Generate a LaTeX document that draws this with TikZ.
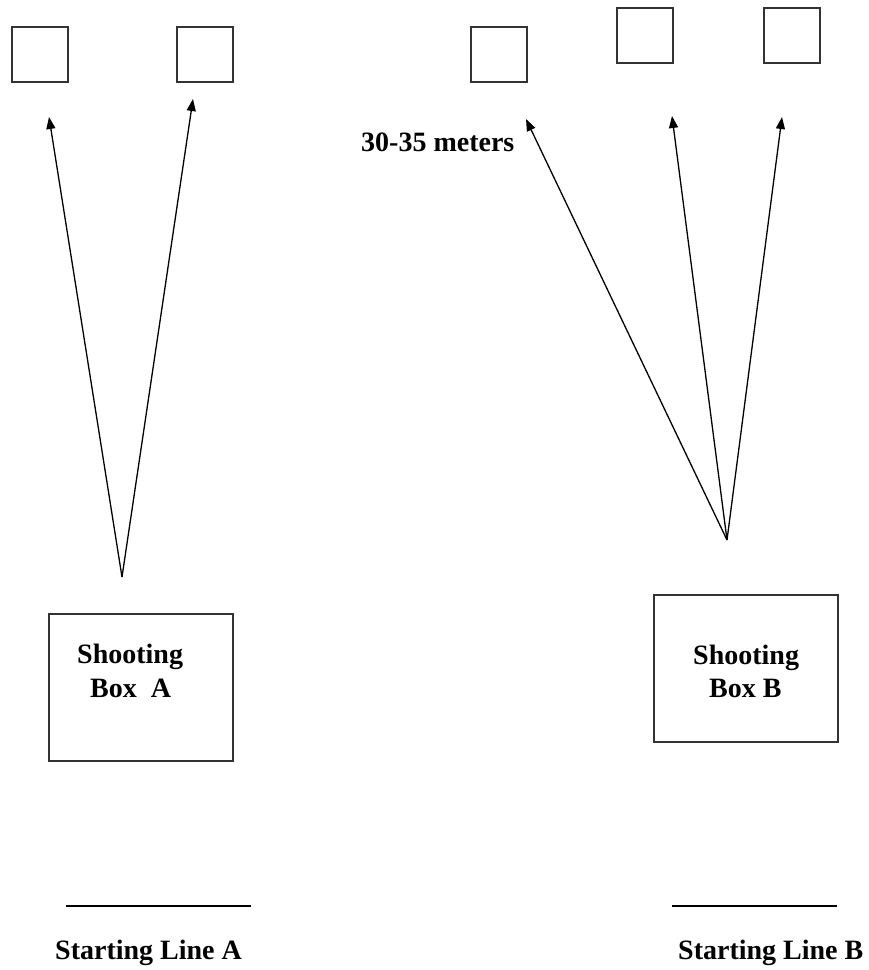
\documentclass[tikz,border=0pt]{standalone}
\usepackage{fontspec}
\setmainfont{Liberation Serif}
\usetikzlibrary{arrows.meta}
\begin{document}
\begin{tikzpicture}[x=1pt,y=-1pt,
  target/.style={draw=black!80,line width=1.8pt,minimum width=56pt,minimum height=55pt,inner sep=0pt,anchor=north west},
  shootbox/.style={draw=black!80,line width=1.8pt,inner sep=0pt,anchor=north west},
  lbl/.style={font=\bfseries\fontsize{28}{33}\selectfont,inner sep=0pt,anchor=base west},
  shot/.style={line width=1.3pt,-{Triangle[length=12pt,width=9pt]}},
  startline/.style={line width=1.6pt}]
\useasboundingbox (0,0) rectangle (869,970);
% targets
\node[target] (ta1) at (11,26) {};
\node[target] (ta2) at (176,26) {};
\node[target] (tb1) at (470,26) {};
\node[target] (tb2) at (616,7) {};
\node[target] (tb3) at (763,7) {};
% shooting boxes
\node[shootbox,minimum width=184pt,minimum height=147pt] (boxA) at (48,613) {};
\node[shootbox,minimum width=184pt,minimum height=147pt] (boxB) at (653,594) {};
\node[lbl] (sa1) at (77,663) {Shooting};
\node[lbl] (sa2) at (90,697) {Box\ \ A};
\node[lbl] (sb1) at (693,664) {Shooting};
\node[lbl] (sb2) at (709,697) {Box B};
% shot lines
\coordinate (oa) at (122,577);
\coordinate (ea1) at (49,117);
\coordinate (ea2) at (193,99);
\coordinate (ob) at (727,540);
\coordinate (eb1) at (526,119);
\coordinate (eb2) at (672,116);
\coordinate (eb3) at (782,117);
\draw[shot] (oa) -- (ea1);
\draw[shot] (oa) -- (ea2);
\draw[shot] (ob) -- (eb1);
\draw[shot] (ob) -- (eb2);
\draw[shot] (ob) -- (eb3);
\node[lbl] (dist) at (361,151) {30-35 meters};
% starting lines
\coordinate (la1) at (66,906);
\coordinate (la2) at (251,906);
\coordinate (lb1) at (672,906);
\coordinate (lb2) at (837,906);
\draw[startline] (la1) -- (la2);
\draw[startline] (lb1) -- (lb2);
\node[lbl] (sla) at (55,959) {Starting Line A};
\node[lbl] (slb) at (678,959) {Starting Line B};
\end{tikzpicture}
\end{document}
